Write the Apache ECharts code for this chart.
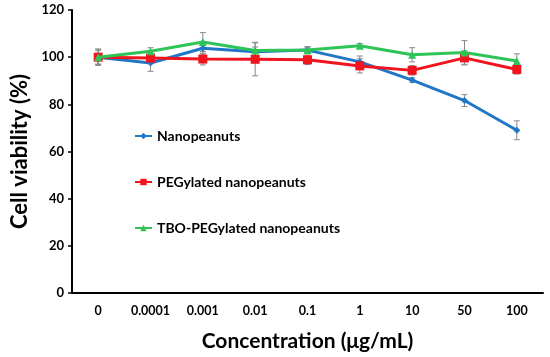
<!DOCTYPE html>
<html><head><meta charset="utf-8">
<script src="https://cdn.jsdelivr.net/npm/echarts@6/dist/echarts.min.js"></script>
<style>html,body{margin:0;padding:0;background:#fff}#c{width:550px;height:357px}</style>
</head><body><div id="c"></div>
<script>
var categories = ['0','0.0001','0.001','0.01','0.1','1','10','50','100'];
var nanoVals = [100, 97.5, 103.8, 102.3, 103, 98, 90.3, 81.6, 69];
var nanoErr  = [3, 3.5, 2.5, 2, 1.5, 2.5, 1, 2.5, 4];
var pegVals  = [100, 99.6, 99.2, 99.1, 98.9, 96.3, 94.4, 99.7, 94.8];
var pegErr   = [3, 2, 2.5, 7, 2, 3, 2, 3, 2];
var tboVals  = [100, 102.5, 106.4, 102.8, 103, 104.8, 101, 102, 98.4];
var tboErr   = [3.5, 1.5, 4, 3.5, 1, 1, 3, 5, 3];
var yTicks = [0, 20, 40, 60, 80, 100, 120];

var FONT = 'Lato';
function errData(v, e){ return v.map(function(x,i){ return [i, x - e[i], x + e[i]]; }); }
function errSeries(v, e){
  return {
    type: 'custom', silent: true, z: 1,
    data: errData(v, e),
    renderItem: function(params, api){
      var lo = api.coord([api.value(0), api.value(1)]);
      var hi = api.coord([api.value(0), api.value(2)]);
      var w = 3;
      var st = {stroke: '#888', lineWidth: 1};
      return {type: 'group', children: [
        {type:'line', shape:{x1:lo[0],y1:lo[1],x2:hi[0],y2:hi[1]}, style: st},
        {type:'line', shape:{x1:lo[0]-w,y1:lo[1],x2:lo[0]+w,y2:lo[1]}, style: st},
        {type:'line', shape:{x1:hi[0]-w,y1:hi[1],x2:hi[0]+w,y2:hi[1]}, style: st}
      ]};
    }
  };
}
var chart = echarts.init(document.getElementById('c'));
chart.setOption({
  animation: false,
  grid: {left: 72, right: 7, top: 10, bottom: 64},
  legend: {
    orient: 'vertical', left: 129, top: 124, itemGap: 32, itemWidth: 17, itemHeight: 8,
    textStyle: {fontFamily: FONT, fontWeight: 'bold', fontSize: 14, color: '#000'},
    data: ['Nanopeanuts', 'PEGylated nanopeanuts', 'TBO-PEGylated nanopeanuts']
  },
  xAxis: {
    type: 'category', data: categories, boundaryGap: true,
    name: 'Concentration (μg/mL)', nameLocation: 'middle', nameGap: 38,
    nameTextStyle: {fontFamily: FONT, fontWeight: 'bold', fontSize: 21, color: '#000'},
    axisLine: {lineStyle: {color: '#000', width: 2}},
    axisTick: {alignWithLabel: false, interval: 0, length: 4, lineStyle: {color: '#000', width: 1.5}},
    axisLabel: {interval: 0, hideOverlap: false, fontFamily: FONT, fontWeight: 'bold', fontSize: 12.5, color: '#000', margin: 11}
  },
  yAxis: {
    type: 'value', min: 0, max: 120, interval: 20,
    name: 'Cell viability (%)', nameLocation: 'middle', nameGap: 34,
    nameTextStyle: {fontFamily: FONT, fontWeight: 'bold', fontSize: 22, color: '#000'},
    splitLine: {show: false},
    axisLine: {show: true, lineStyle: {color: '#000', width: 2}},
    axisTick: {show: true, length: 4, lineStyle: {color: '#000', width: 1.5}},
    axisLabel: {fontFamily: FONT, fontWeight: 'bold', fontSize: 13, color: '#000', margin: 8,
      formatter: function(v){ return yTicks.indexOf(v) >= 0 ? String(v) : ''; }}
  },
  series: [
    errSeries(nanoVals, nanoErr),
    errSeries(pegVals, pegErr),
    errSeries(tboVals, tboErr),
    {name: 'Nanopeanuts', type: 'line', data: nanoVals, z: 3, color: '#2077c8',
     symbol: 'diamond', symbolSize: 7, lineStyle: {width: 3}, itemStyle: {color: '#2077c8'}},
    {name: 'PEGylated nanopeanuts', type: 'line', data: pegVals, z: 4, color: '#f0141e',
     symbol: 'rect', symbolSize: 9, lineStyle: {width: 3}, itemStyle: {color: '#f0141e'}},
    {name: 'TBO-PEGylated nanopeanuts', type: 'line', data: tboVals, z: 5, color: '#2ec458',
     symbol: 'triangle', symbolSize: 8, lineStyle: {width: 3}, itemStyle: {color: '#2ec458'}}
  ]
});
</script></body></html>
